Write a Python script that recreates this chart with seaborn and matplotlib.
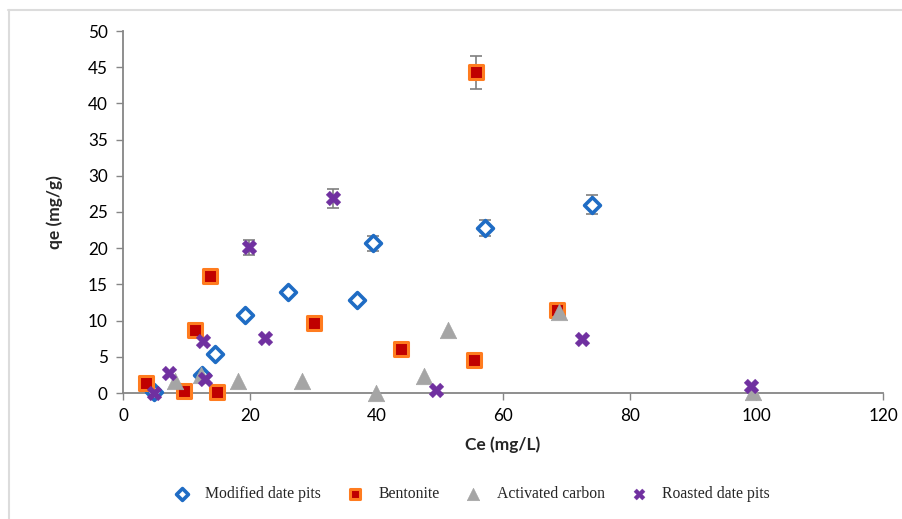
import numpy as np
import pandas as pd
import matplotlib
matplotlib.use("Agg")
import matplotlib.pyplot as plt
from matplotlib.lines import Line2D
import seaborn as sns

# ---- data ----
mod_x = [4.9, 12.5, 14.5, 19.2, 26.1, 37.0, 39.4, 57.1, 74.1]
mod_y = [0.1, 2.5, 5.4, 10.8, 14.0, 12.9, 20.7, 22.8, 26.0]
mod_e = [0, 0, 0, 0, 0, 0, 1.05, 1.15, 1.3]

ben_x = [3.6, 9.7, 11.4, 13.8, 14.9, 30.2, 43.9, 55.4, 55.7, 68.5]
ben_y = [1.4, 0.3, 8.7, 16.2, 0.1, 9.7, 6.1, 4.6, 44.3, 11.5]
ben_e = [0, 0, 0, 0, 0, 0, 0, 0, 2.3, 0]

act_x = [8.2, 12.3, 18.2, 28.2, 40.0, 47.5, 51.3, 68.9, 99.4]
act_y = [1.7, 2.5, 1.7, 1.7, 0.0, 2.4, 8.7, 11.2, 0.2]
act_e = [0, 0, 0, 0, 0, 0, 0, 0, 0]

roa_x = [4.9, 7.3, 12.7, 13.0, 19.9, 22.5, 33.1, 49.5, 72.5, 99.1]
roa_y = [0.0, 2.7, 7.2, 2.0, 20.1, 7.6, 26.9, 0.4, 7.4, 0.9]
roa_e = [0, 0, 0, 0, 1.0, 0, 1.3, 0, 0, 0]

labels = ["Modified date pits", "Bentonite", "Activated carbon", "Roasted date pits"]
x_ticks = [0, 20, 40, 60, 80, 100, 120]
y_ticks = [0, 5, 10, 15, 20, 25, 30, 35, 40, 45, 50]

sns.set_style("white")
plt.rcParams['font.family'] = ['Lato', 'DejaVu Sans']

fig = plt.figure(figsize=(9.03, 5.19), dpi=100)
ax = fig.add_axes([123/903, 1-393/519, (883-123)/903, (393-31)/519])

series = [
    (mod_x, mod_y, mod_e, dict(marker="D", s=65, facecolor="white", edgecolor="#1f6cc4", linewidth=2.6)),
    (ben_x, ben_y, ben_e, dict(marker="s", s=105, facecolor="#c00000", edgecolor="#ff7c1f", linewidth=2.2)),
    (act_x, act_y, act_e, dict(marker="^", s=140, facecolor="#a5a5a5", edgecolor="#a5a5a5", linewidth=0.5)),
    (roa_x, roa_y, roa_e, dict(marker="X", s=115, facecolor="#7030a0", edgecolor="#7030a0", linewidth=0.2)),
]

for i, (xs, ys, es, st) in enumerate(series):
    xs = np.array(xs); ys = np.array(ys); es = np.array(es)
    m = es > 0
    if m.any():
        ax.errorbar(xs[m], ys[m], yerr=es[m], fmt="none", ecolor="#7f7f7f",
                    elinewidth=1.2, capsize=4, capthick=1.2, zorder=2 + i * 0.1)
    df = pd.DataFrame({"Ce": xs, "qe": ys})
    sns.scatterplot(data=df, x="Ce", y="qe", ax=ax, marker=st["marker"], s=st["s"],
                    color=st["facecolor"], edgecolor=st["edgecolor"],
                    linewidth=st["linewidth"], zorder=3 + i * 0.1, label=labels[i],
                    clip_on=False)

ax.set_xlim(0, 120)
ax.set_ylim(0, 50)
ax.set_xticks(x_ticks)
ax.set_yticks(y_ticks)
ax.tick_params(axis="both", labelsize=12.3, length=5, width=1, color="#868686",
               direction="out", labelcolor="black", pad=6)
ax.tick_params(axis="x", bottom=True)
ax.tick_params(axis="y", left=True)
for side in ["top", "right"]:
    ax.spines[side].set_visible(False)
for side in ["left", "bottom"]:
    ax.spines[side].set_color("#868686")
    ax.spines[side].set_linewidth(1.3)
ax.set_xlabel("Ce (mg/L)", fontsize=12.5, fontweight="bold", labelpad=9)
ax.set_ylabel("qe (mg/g)", fontsize=12.5, fontweight="bold", labelpad=18)

leg = ax.legend(loc="center", bbox_to_anchor=(468/903, 1-494/519), bbox_transform=fig.transFigure,
                ncol=4, frameon=False, prop={"family": "Liberation Serif", "size": 11.3},
                handletextpad=0.5, columnspacing=1.15, markerscale=0.75)

# light frame lines at top and left of figure
fig.add_artist(Line2D([8/903, 1], [1-10/519, 1-10/519], transform=fig.transFigure,
                      color="#dcdcdc", linewidth=1.5))
fig.add_artist(Line2D([9/903, 9/903], [0, 1-10/519], transform=fig.transFigure,
                      color="#dcdcdc", linewidth=1.5))

fig.savefig("out.png", dpi=100)
